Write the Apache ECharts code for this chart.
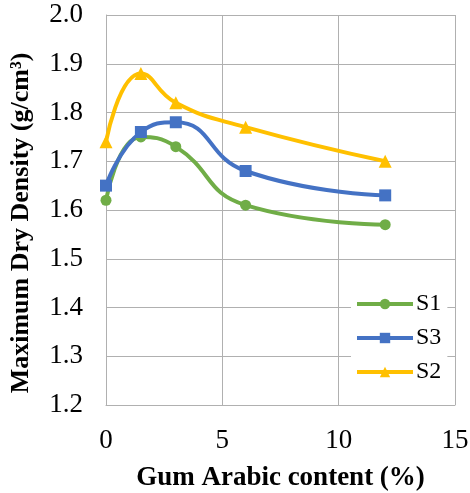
<!DOCTYPE html>
<html><head><meta charset="utf-8">
<script src="https://cdn.jsdelivr.net/npm/echarts@6/dist/echarts.min.js"></script>
<style>html,body{margin:0;padding:0;background:#fff}#c{width:470px;height:493px}</style>
</head><body><div id="c"></div>
<script>
const xValues = [0, 1.5, 3, 6, 12];
const s1 = [1.62, 1.75, 1.73, 1.61, 1.57];
const s3 = [1.65, 1.76, 1.78, 1.68, 1.63];
const s2 = [1.74, 1.88, 1.82, 1.77, 1.70];
const xTicks = [0, 5, 10, 15];
const yTicks = [1.2, 1.3, 1.4, 1.5, 1.6, 1.7, 1.8, 1.9, 2.0];

const font = '"Liberation Serif", "Times New Roman", serif';
const gridColor = '#b0b0b0';
function pairs(ys){ return xValues.map((x,i)=>[x, ys[i]]); }

const chart = echarts.init(document.getElementById('c'));
chart.setOption({
  animation: false,
  grid: {left: 106, right: 15, top: 15, bottom: 88, containLabel: false, outerBoundsMode: 'none'},
  xAxis: {
    type: 'value', min: xTicks[0], max: xTicks[xTicks.length-1], interval: 5,
    axisLine: {show: true, lineStyle: {color: gridColor, width: 1}},
    axisTick: {show: false},
    splitLine: {show: true, lineStyle: {color: gridColor, width: 1}},
    axisLabel: {fontFamily: font, fontSize: 27, color: '#000', margin: 22},
    name: 'Gum Arabic content (%)', nameLocation: 'middle', nameGap: 60,
    nameTextStyle: {fontFamily: font, fontSize: 27, fontWeight: 'bold', color: '#000'}
  },
  yAxis: {
    type: 'value', min: yTicks[0], max: yTicks[yTicks.length-1], interval: 0.1,
    axisLine: {show: true, lineStyle: {color: gridColor, width: 1}},
    axisTick: {show: false},
    splitLine: {show: true, lineStyle: {color: gridColor, width: 1}},
    axisLabel: {fontFamily: font, fontSize: 27, color: '#000', margin: 23,
      formatter: v => v.toFixed(1)},
    name: 'Maximum Dry Density (g/cm³)', nameLocation: 'middle', nameGap: 72,
    nameTextStyle: {fontFamily: font, fontSize: 26, fontWeight: 'bold', color: '#000',
      padding: [0, 26, 0, 0]}
  },
  legend: {
    orient: 'vertical', left: 351, top: 288,
    backgroundColor: '#fff', padding: [4, 6, 4, 4],
    itemWidth: 56, itemHeight: 13, itemGap: 10,
    lineStyle: {width: 4},
    textStyle: {fontFamily: font, fontSize: 24, color: '#000', padding: [0,0,0,-2]},
    data: ['S1', 'S3', 'S2']
  },
  series: [
    {name: 'S1', type: 'line', data: pairs(s1), smooth: 0.5,
     symbol: 'circle', symbolSize: 11, color: '#70ad47',
     lineStyle: {width: 4, color: '#70ad47'}, itemStyle: {color: '#70ad47'}},
    {name: 'S3', type: 'line', data: pairs(s3), smooth: 0.5,
     symbol: 'rect', symbolSize: 12, color: '#4472c4',
     lineStyle: {width: 4, color: '#4472c4'}, itemStyle: {color: '#4472c4'}},
    {name: 'S2', type: 'line', data: pairs(s2), smooth: 0.5,
     symbol: 'triangle', symbolSize: 13, color: '#ffc000',
     lineStyle: {width: 4, color: '#ffc000'}, itemStyle: {color: '#ffc000'}}
  ]
});
</script></body></html>
